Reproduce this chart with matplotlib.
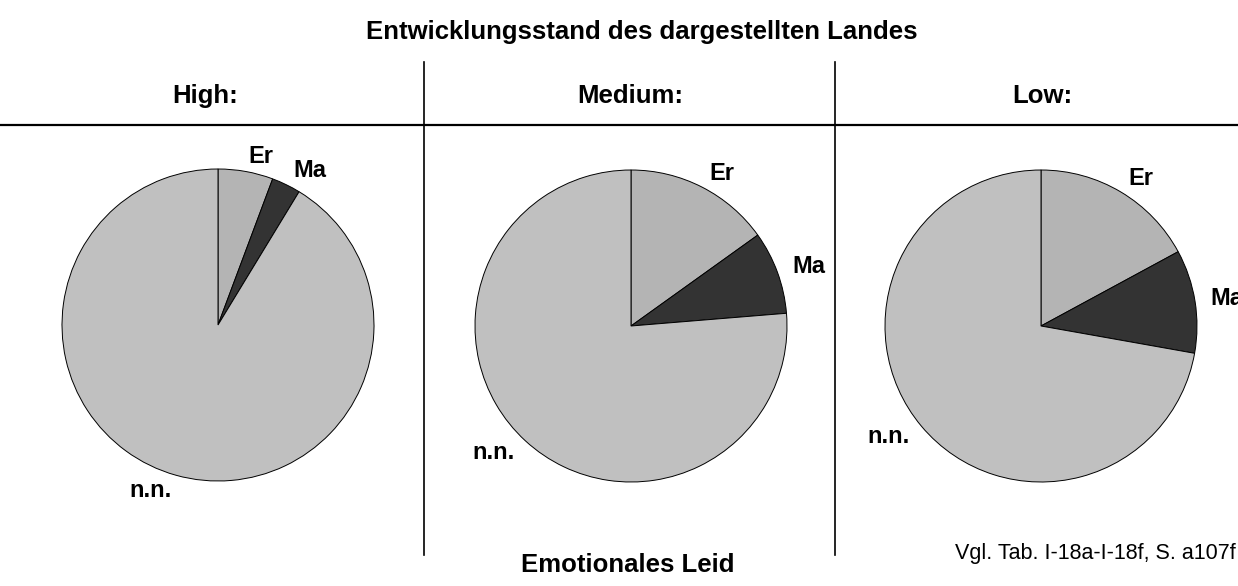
import matplotlib
matplotlib.use('Agg')
import matplotlib.pyplot as plt
from matplotlib.lines import Line2D

plt.rcParams['font.family'] = ['Liberation Sans', 'DejaVu Sans']

# data (shares in percent)
groups = ['High:', 'Medium:', 'Low:']
labels = ['Er', 'Ma', 'n.n.']
er_vals = [5.7, 15.1, 17.1]
ma_vals = [3.0, 8.6, 10.7]
nn_vals = [91.3, 76.3, 72.2]
colors = ['#b4b4b4', '#333333', '#c0c0c0']

W, H = 1238, 586
fig = plt.figure(figsize=(W / 100, H / 100), dpi=100)

# pie centres in pixels, radius in pixels
centres = [(218, 325), (631, 326), (1041, 326)]
header_x = [205, 630, 1042]
R = 156


def px(x, y):
    return x / W, 1 - y / H


for i, g in enumerate(groups):
    cx, cy = centres[i]
    ax = fig.add_axes([(cx - R) / W, (H - cy - R) / H, 2 * R / W, 2 * R / H])
    vals = [er_vals[i], ma_vals[i], nn_vals[i]]
    wedges, texts = ax.pie(vals, labels=labels, colors=colors, startangle=90,
                           counterclock=False, labeldistance=1.1,
                           wedgeprops=dict(edgecolor='black', linewidth=0.7),
                           textprops=dict(fontsize=17, fontweight='bold'))
    for t in texts:
        t.set_clip_on(False)
    ax.set_xlim(-1, 1)
    ax.set_ylim(-1, 1)
    ax.axis('off')
    fig.text(*px(header_x[i], 96), g, ha='center', va='center',
             fontsize=18.5, fontweight='bold')

# divider lines
for x in [424, 835]:
    fig.add_artist(Line2D([x / W, x / W], [1 - 62 / H, 1 - 555 / H],
                          color='black', linewidth=1.2))
fig.add_artist(Line2D([0, 1], [1 - 125 / H, 1 - 125 / H], color='black', linewidth=1.6))

fig.text(*px(642, 32), 'Entwicklungsstand des dargestellten Landes',
         ha='center', va='center', fontsize=18.5, fontweight='bold')
fig.text(*px(628, 565), 'Emotionales Leid', ha='center', va='center',
         fontsize=18.5, fontweight='bold')
fig.text(*px(1236, 553), 'Vgl. Tab. I-18a-I-18f, S. a107f', ha='right', va='center',
         fontsize=15.5)

fig.savefig('out.png', dpi=100)
